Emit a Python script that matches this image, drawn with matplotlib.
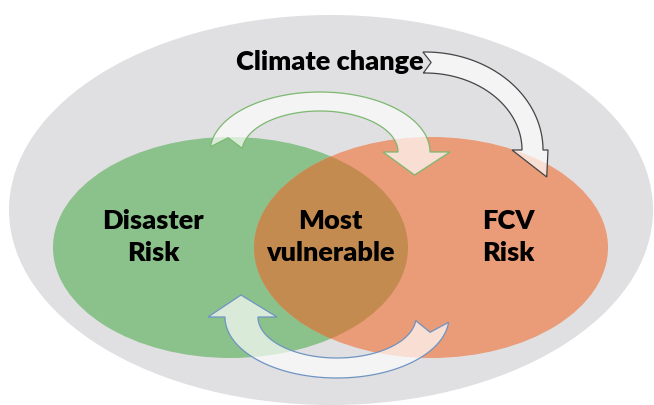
import numpy as np
import matplotlib.pyplot as plt
from matplotlib.patches import Ellipse, Polygon

# --- Dados do diagrama ---
circle_labels = ["Disaster\nRisk", "Most\nvulnerable", "FCV\nRisk"]
outer_label = "Climate change"

# cores
gray_bg = "#e0e0e2"
green_fill = "#8bc18b"
orange_fill = "#ea9b78"
overlap_fill = "#c48b50"


def curved_arrow(ax, cx, cy, rx_o, ry_o, rx_i, ry_i, t0, t1,
                 head_out, head_in, head_len, notch, edge, skew=0.0):
    """Seta curva (arco eliptico) em coordenadas de pixel (y para baixo)."""
    ts = np.radians(np.linspace(t0, t1, 120))
    outer = np.column_stack([cx + rx_o * np.cos(ts), cy - ry_o * np.sin(ts)])
    inner = np.column_stack([cx + rx_i * np.cos(ts), cy - ry_i * np.sin(ts)])
    mid = (outer + inner) / 2

    po, pi = outer[-1], inner[-1]
    u = (po - pi) / np.linalg.norm(po - pi)
    d = mid[-1] - mid[-2]
    d = d / np.linalg.norm(d)
    tip = mid[-1] + d * head_len + u * skew
    base_o = po + u * head_out
    base_i = pi - u * head_in

    d0 = mid[1] - mid[0]
    d0 = d0 / np.linalg.norm(d0)
    notch_pt = mid[0] + d0 * notch

    pts = np.vstack([outer, base_o, tip, base_i, inner[::-1], notch_pt])
    ax.add_patch(Polygon(pts, closed=True, facecolor=(1, 1, 1, 0.68),
                         edgecolor=edge, linewidth=0.9, zorder=5))


fig = plt.figure(figsize=(6.54, 4.05), dpi=100)
ax = fig.add_axes([0, 0, 1, 1])
ax.set_xlim(0, 654)
ax.set_ylim(405, 0)
ax.axis('off')

# Elipse externa (mudanca climatica)
ax.add_patch(Ellipse((331, 210), 644, 390, facecolor=gray_bg, edgecolor='none', zorder=1))

# Circulos de risco
green = Ellipse((230.5, 247.5), 355, 221, facecolor=green_fill, edgecolor='none', zorder=2)
orange = Ellipse((431, 247.5), 354, 221, facecolor=orange_fill, edgecolor='none', zorder=3)
ax.add_patch(green)
ax.add_patch(orange)

# Intersecao
inter = Ellipse((230.5, 247.5), 355, 221, facecolor=overlap_fill, edgecolor='none', zorder=4)
ax.add_patch(inter)
inter.set_clip_path(orange)

# Setas
curved_arrow(ax, 320, 152, 110, 60, 78, 41, 175, 0, 20, 15, 23, 10, '#7cb870')
curved_arrow(ax, 337, 317, 112, 61, 79, 41, -5, -180, 17, 19, 22, 11, '#6f94c2')
curved_arrow(ax, 425, 150, 118, 98, 97, 77, 91, 0, 5, 10, 27, 8, '#444444', skew=14)

# Textos
font = ['Lato', 'DejaVu Sans']
text_pos = [(153, 237), (330, 237), (508, 237)]
for (x, y), lbl in zip(text_pos, circle_labels):
    ax.text(x, y, lbl, ha='center', va='center', fontsize=19.5, fontweight='heavy',
            family=font, linespacing=1.38, color='black', zorder=6)
ax.text(330, 62, outer_label, ha='center', va='center', fontsize=19.5,
        fontweight='heavy', family=font, color='black', zorder=6)

fig.savefig('out.png', dpi=100)
